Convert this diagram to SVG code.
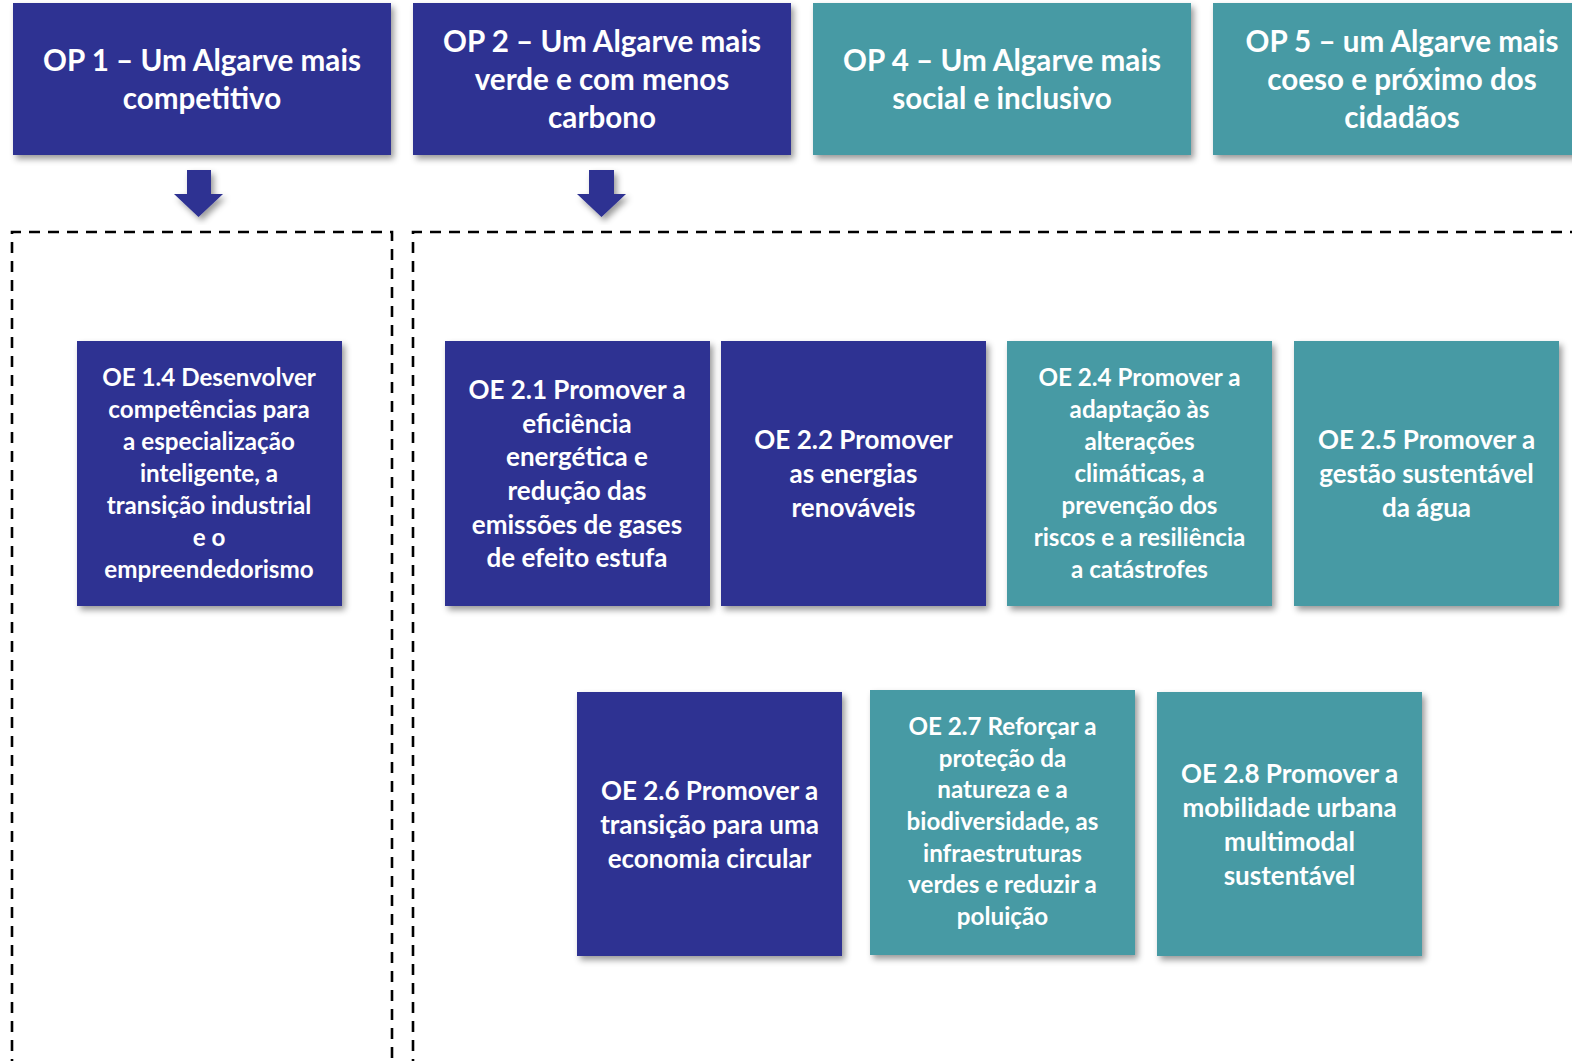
<svg xmlns="http://www.w3.org/2000/svg" width="1572" height="1061" viewBox="0 0 1572 1061">
<defs>
<filter id="sh" x="-10%" y="-10%" width="125%" height="125%">
<feDropShadow dx="3" dy="4" stdDeviation="3" flood-color="#000" flood-opacity="0.4"/>
</filter>
</defs>
<style>
.blue{fill:#2E3192}
.teal{fill:#479AA4}
.box{filter:url(#sh)}
text{font-family:Lato,"Open Sans","Liberation Sans",sans-serif;font-weight:bold;fill:#fff;text-anchor:middle}
.h{font-size:29.6px}
.s{font-size:24.2px}
.m{font-size:26px}
.dash{fill:none;stroke:#000;stroke-width:2.6;stroke-dasharray:11 8}
</style>
<rect width="1572" height="1061" fill="#fff"/>

<g id="containers">
<path class="dash" d="M12,1070 V232 H392 V1070"/>
<path class="dash" d="M413,1070 V232 H1580"/>
</g>

<g id="connectors">
<path class="blue box" d="M187,170 H211 V194 H223 L198.5,217 L174,194 H187 Z"/>
<path class="blue box" d="M589,170 H614 V194 H626 L601.5,217 L577,194 H589 Z"/>
</g>

<g id="op1">
<rect class="blue box" x="13" y="3" width="378" height="152"/>
<text class="h" x="202" y="71">OP 1 – Um Algarve mais</text>
<text class="h" x="202" y="109">competitivo</text>
</g>
<g id="op2">
<rect class="blue box" x="413" y="3" width="378" height="152"/>
<text class="h" x="602" y="52">OP 2 – Um Algarve mais</text>
<text class="h" x="602" y="90">verde e com menos</text>
<text class="h" x="602" y="128">carbono</text>
</g>
<g id="op4">
<rect class="teal box" x="813" y="3" width="378" height="152"/>
<text class="h" x="1002" y="71">OP 4 – Um Algarve mais</text>
<text class="h" x="1002" y="109">social e inclusivo</text>
</g>
<g id="op5">
<rect class="teal box" x="1213" y="3" width="378" height="152"/>
<text class="h" x="1402" y="52">OP 5 – um Algarve mais</text>
<text class="h" x="1402" y="90">coeso e próximo dos</text>
<text class="h" x="1402" y="128">cidadãos</text>
</g>

<g id="oe14">
<rect class="blue box" x="77" y="341" width="265" height="265"/>
<text class="s" x="209" y="386">OE 1.4 Desenvolver</text>
<text class="s" x="209" y="418">competências para</text>
<text class="s" x="209" y="450">a especialização</text>
<text class="s" x="209" y="482">inteligente, a</text>
<text class="s" x="209" y="514">transição industrial</text>
<text class="s" x="209" y="546">e o</text>
<text class="s" x="209" y="578">empreendedorismo</text>
</g>
<g id="oe21">
<rect class="blue box" x="445" y="341" width="265" height="265"/>
<text class="m" x="577" y="399">OE 2.1 Promover a</text>
<text class="m" x="577" y="433">eficiência</text>
<text class="m" x="577" y="466">energética e</text>
<text class="m" x="577" y="500">redução das</text>
<text class="m" x="577" y="534">emissões de gases</text>
<text class="m" x="577" y="567">de efeito estufa</text>
</g>
<g id="oe22">
<rect class="blue box" x="721" y="341" width="265" height="265"/>
<text class="m" x="853.5" y="449">OE 2.2 Promover</text>
<text class="m" x="853.5" y="483">as energias</text>
<text class="m" x="853.5" y="517">renováveis</text>
</g>
<g id="oe24">
<rect class="teal box" x="1007" y="341" width="265" height="265"/>
<text class="s" x="1139.5" y="386">OE 2.4 Promover a</text>
<text class="s" x="1139.5" y="418">adaptação às</text>
<text class="s" x="1139.5" y="450">alterações</text>
<text class="s" x="1139.5" y="482">climáticas, a</text>
<text class="s" x="1139.5" y="514">prevenção dos</text>
<text class="s" x="1139.5" y="546">riscos e a resiliência</text>
<text class="s" x="1139.5" y="578">a catástrofes</text>
</g>
<g id="oe25">
<rect class="teal box" x="1294" y="341" width="265" height="265"/>
<text class="m" x="1426.5" y="449">OE 2.5 Promover a</text>
<text class="m" x="1426.5" y="483">gestão sustentável</text>
<text class="m" x="1426.5" y="517">da água</text>
</g>

<g id="oe26">
<rect class="blue box" x="577" y="692" width="265" height="264"/>
<text class="m" x="709.5" y="800">OE 2.6 Promover a</text>
<text class="m" x="709.5" y="834">transição para uma</text>
<text class="m" x="709.5" y="868">economia circular</text>
</g>
<g id="oe27">
<rect class="teal box" x="870" y="690" width="265" height="265"/>
<text class="s" x="1002.5" y="735">OE 2.7 Reforçar a</text>
<text class="s" x="1002.5" y="767">proteção da</text>
<text class="s" x="1002.5" y="798">natureza e a</text>
<text class="s" x="1002.5" y="830">biodiversidade, as</text>
<text class="s" x="1002.5" y="862">infraestruturas</text>
<text class="s" x="1002.5" y="893">verdes e reduzir a</text>
<text class="s" x="1002.5" y="925">poluição</text>
</g>
<g id="oe28">
<rect class="teal box" x="1157" y="692" width="265" height="264"/>
<text class="m" x="1289.5" y="783">OE 2.8 Promover a</text>
<text class="m" x="1289.5" y="817">mobilidade urbana</text>
<text class="m" x="1289.5" y="851">multimodal</text>
<text class="m" x="1289.5" y="885">sustentável</text>
</g>
</svg>
